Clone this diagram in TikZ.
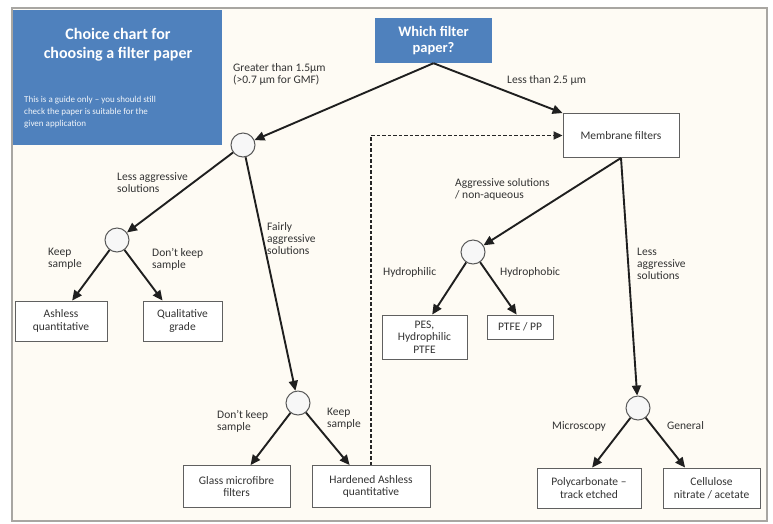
\documentclass[tikz,border=0pt]{standalone}
\usepackage{fontspec}
\setmainfont{Carlito}
\usetikzlibrary{arrows.meta,calc}
\definecolor{bg}{HTML}{FEFBF4}
\definecolor{titleblue}{HTML}{4F81BD}
\definecolor{txt}{HTML}{333333}
\definecolor{framegray}{HTML}{A8A6A2}
\begin{document}
\begin{tikzpicture}[x=1pt,y=-1pt,
  box/.style={draw=gray!75!black, line width=0.9pt, fill=white, align=center,
    font=\fontsize{11.5}{12.5}\selectfont, text=txt, inner sep=1pt},
  dot/.style={circle, draw=gray!70!black, line width=1pt, fill=gray!6,
    minimum size=24pt, inner sep=0pt},
  arr/.style={-{Triangle[length=10pt,width=9pt]}, line width=1.9pt, draw=black!88},
  lbl/.style={font=\fontsize{11.5}{12}\selectfont, text=txt, align=left,
    inner sep=0pt, anchor=north west}]
\useasboundingbox (0,0) rectangle (773,523);
\fill[white] (0,0) rectangle (773,523);
\draw[framegray, line width=2pt, fill=bg] (12,8) rectangle (767,521);

% title panel
\node[fill=titleblue, minimum width=209pt, minimum height=135pt, inner sep=0pt]
  (tbox) at (117.5,77.5) {};
\node[text=white, font=\bfseries\fontsize{16}{19}\selectfont, align=center]
  (ttitle) at (118,45) {Choice chart for\\choosing a filter paper};
\node[text=white!92!titleblue, font=\fontsize{9}{12}\selectfont, align=left,
  anchor=north west, inner sep=0pt]
  (tsub) at (24,96) {This is a guide only -- you should still\\check the paper is suitable for the\\given application};

\node[fill=titleblue, minimum width=117pt, minimum height=45pt, inner sep=0pt,
  text=white, font=\bfseries\fontsize{14.5}{16}\selectfont, align=center]
  (q) at (433.5,40.5) {Which filter\\paper?};

% decision points
\node[dot] (c1) at (243,145) {};
\node[dot] (c2) at (117,240) {};
\node[dot] (c3) at (473,252) {};
\node[dot] (c4) at (298,403) {};
\node[dot] (c5) at (638,408) {};

% result boxes
\node[box, minimum width=116pt, minimum height=44pt] (mem) at (621,135.5) {Membrane filters};
\node[box, minimum width=92pt, minimum height=40pt] (ashless) at (61,321) {Ashless\\quantitative};
\node[box, minimum width=79pt, minimum height=40pt] (qual) at (182.5,321) {Qualitative\\grade};
\node[box, minimum width=107pt, minimum height=42pt] (glass) at (236.5,486.5) {Glass microfibre\\filters};
\node[box, minimum width=118pt, minimum height=42pt] (hard) at (371,486.5) {Hardened Ashless\\quantitative};
\node[box, minimum width=85pt, minimum height=44pt] (pes) at (424.5,337) {PES,\\Hydrophilic\\PTFE};
\node[box, minimum width=66pt, minimum height=24pt] (ptfe) at (520,327) {PTFE / PP};
\node[box, minimum width=104pt, minimum height=40pt] (poly) at (589,488) {Polycarbonate --\\track etched};
\node[box, minimum width=97pt, minimum height=40pt] (cell) at (711.5,488) {Cellulose\\nitrate / acetate};

% connectors
\draw[arr] (q.south) -- (c1);
\draw[arr] (q.south) -- (mem.north west);
\draw[arr] (c1) -- (c2);
\draw[arr] (c1) -- (c4);
\draw[arr] (c2) -- ($(ashless.north west)!0.62!(ashless.north east)$);
\draw[arr] (c2) -- ($(qual.north west)!0.25!(qual.north east)$);
\draw[arr] (c4) -- ($(glass.north west)!0.63!(glass.north east)$);
\draw[arr] (c4) -- ($(hard.north west)!0.32!(hard.north east)$);
\draw[arr] (mem.south) -- (c3);
\draw[arr] (mem.south) -- (c5);
\draw[arr] (c3) -- ($(pes.north west)!0.59!(pes.north east)$);
\draw[arr] (c3) -- ($(ptfe.north west)!0.45!(ptfe.north east)$);
\draw[arr] (c5) -- ($(poly.north west)!0.53!(poly.north east)$);
\draw[arr] (c5) -- ($(cell.north west)!0.23!(cell.north east)$);
\draw[-{Triangle[length=9pt,width=8pt]}, line width=1.8pt, black!85,
  dash pattern=on 3.5pt off 2pt] (hard.north) |- (mem.west);

% labels
\node[lbl] (l1) at (233,63) {Greater than 1.5μm\\(>0.7 μm for GMF)};
\node[lbl] (l2) at (507,75) {Less than 2.5 μm};
\node[lbl] (l3) at (117,172) {Less aggressive\\solutions};
\node[lbl] (l4) at (267,222) {Fairly\\aggressive\\solutions};
\node[lbl] (l5) at (48,248) {Keep\\sample};
\node[lbl] (l6) at (152,248) {Don't keep\\sample};
\node[lbl] (l7) at (217,410) {Don't keep\\sample};
\node[lbl] (l8) at (327,408) {Keep\\sample};
\node[lbl] (l9) at (455,178) {Aggressive solutions\\/ non-aqueous};
\node[lbl] (l10) at (383,267) {Hydrophilic};
\node[lbl] (l11) at (500,267) {Hydrophobic};
\node[lbl] (l12) at (637,248) {Less\\aggressive\\solutions};
\node[lbl] (l13) at (552,421) {Microscopy};
\node[lbl] (l14) at (667,421) {General};
\end{tikzpicture}
\end{document}
